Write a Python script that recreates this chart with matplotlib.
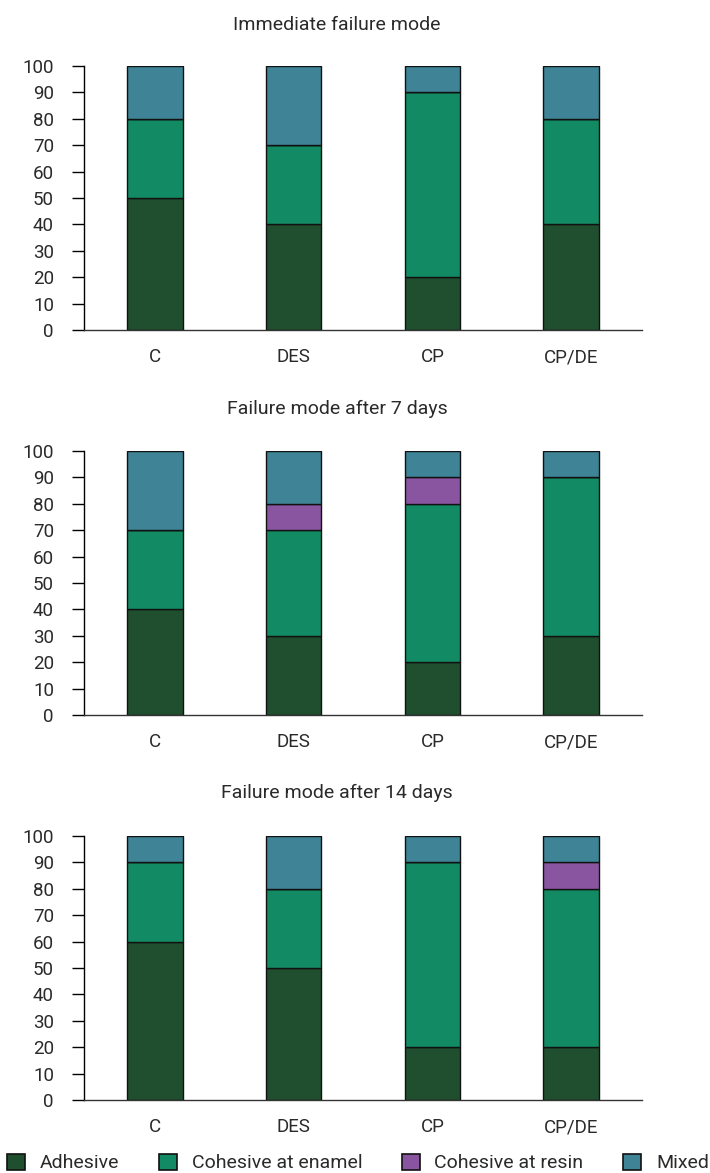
import matplotlib
matplotlib.use('Agg')
import matplotlib.pyplot as plt
from matplotlib.patches import Patch
import numpy as np

plt.rcParams['font.family'] = ['Roboto', 'DejaVu Sans']
plt.rcParams['font.weight'] = 'normal'

groups = ['C', 'DES', 'CP', 'CP/DE']
modes = ['Adhesive', 'Cohesive at enamel', 'Cohesive at resin', 'Mixed']
colors = ['#1f4f2e', '#128a63', '#8a55a0', '#3f8396']

titles = ['Immediate failure mode', 'Failure mode after 7 days', 'Failure mode after 14 days']

# percentages per panel, per mode (rows) x group (cols)
immediate = [
    [50, 40, 20, 40],   # Adhesive
    [30, 30, 70, 40],   # Cohesive at enamel
    [0, 0, 0, 0],       # Cohesive at resin
    [20, 30, 10, 20],   # Mixed
]
day7 = [
    [40, 30, 20, 30],
    [30, 40, 60, 60],
    [0, 10, 10, 0],
    [30, 20, 10, 10],
]
day14 = [
    [60, 50, 20, 20],
    [30, 30, 70, 60],
    [0, 0, 0, 10],
    [10, 20, 10, 10],
]
panels = [immediate, day7, day14]

W, H = 710, 1173
fig = plt.figure(figsize=(W / 100, H / 100), dpi=100)

ax_left = 84
ax_right = 642
tops = [66, 451, 836]
bottoms = [330, 715, 1100]
title_y = [25, 409, 793]
txt = '#2a2a2a'

x = np.arange(len(groups))
for k, data in enumerate(panels):
    ax = fig.add_axes([ax_left / W, 1 - bottoms[k] / H,
                       (ax_right - ax_left) / W, (bottoms[k] - tops[k]) / H])
    bottom = np.zeros(len(groups))
    for i, vals in enumerate(data):
        vals = np.array(vals, dtype=float)
        ax.bar(x, vals, 0.4, bottom=bottom, color=colors[i],
               edgecolor='#111111', linewidth=1.0, zorder=2)
        bottom += vals
    ax.set_xlim(-0.51, 3.51)
    ax.set_ylim(0, 100)
    ax.set_yticks(range(0, 101, 10))
    ax.set_xticks(x)
    ax.set_xticklabels(groups)
    for s in ['top', 'right']:
        ax.spines[s].set_visible(False)
    ax.spines['left'].set_linewidth(1.0)
    ax.spines['bottom'].set_linewidth(1.0)
    ax.spines['bottom'].set_color('#333333')
    ax.tick_params(axis='y', length=8.6, width=1.0, pad=13, labelsize=13.5,
                   labelcolor=txt)
    ax.tick_params(axis='x', length=0, pad=13, labelsize=13.5, labelcolor=txt)
    fig.text(337 / W, 1 - title_y[k] / H, titles[k],
             ha='center', va='center', fontsize=14, color=txt)

handles = [Patch(facecolor=c, edgecolor='#111111', linewidth=1.2) for c in colors]
fig.legend(handles, modes, loc='center', bbox_to_anchor=(358 / W, 1 - 1163 / H),
           ncol=4, frameon=False, fontsize=14, handlelength=0.92, handleheight=0.92,
           handletextpad=0.75, columnspacing=2.05, borderaxespad=0, borderpad=0)
for t in fig.legends[0].get_texts():
    t.set_color(txt)

fig.savefig('out.png', dpi=100, facecolor='white')
plt.close(fig)
